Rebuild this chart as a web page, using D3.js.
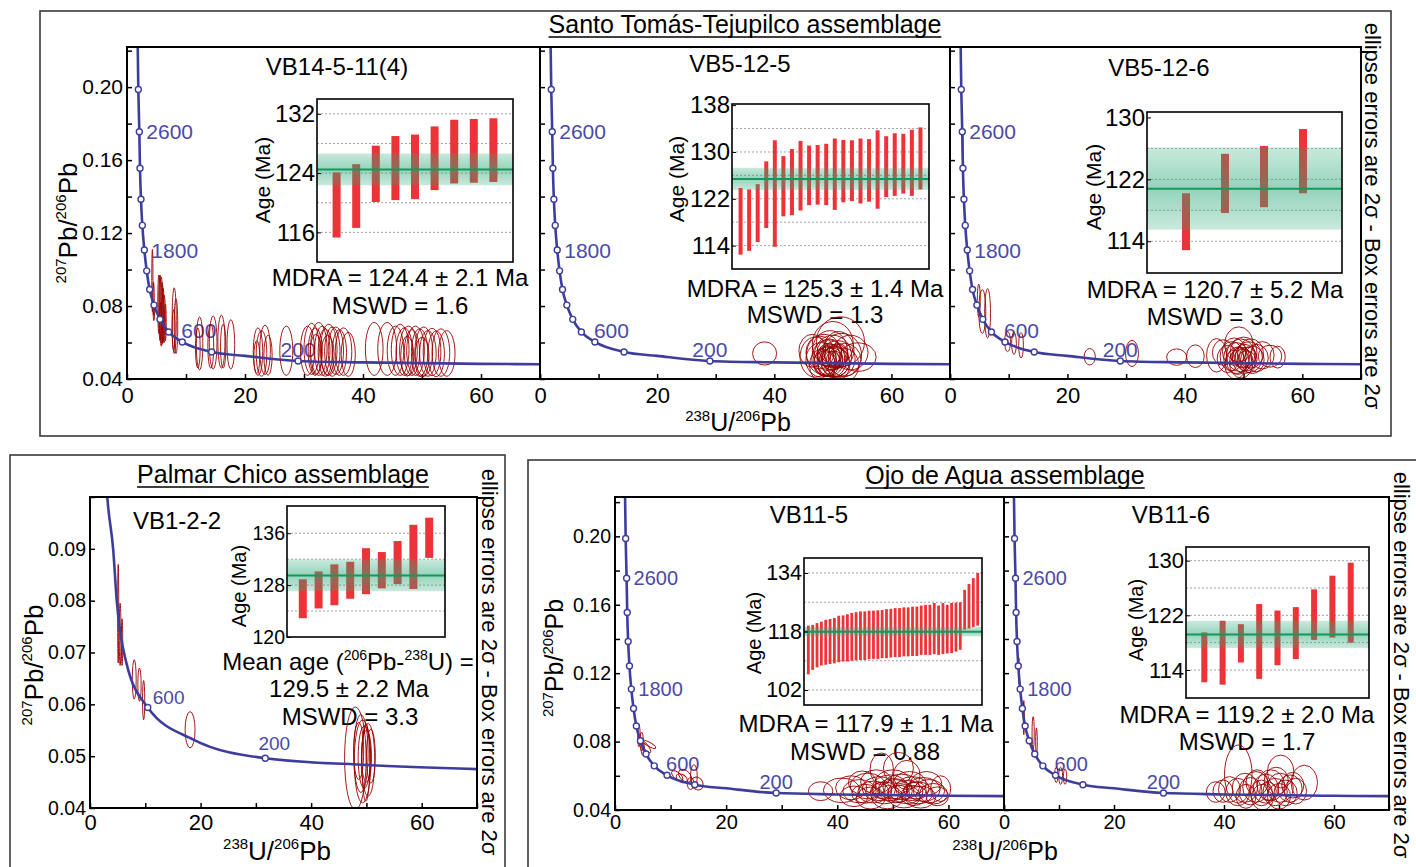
<!DOCTYPE html>
<html><head><meta charset="utf-8">
<script src="https://cdn.jsdelivr.net/npm/d3@7"></script>
<style>
body{margin:0;background:#fff;}
svg{display:block;}
</style></head><body>
<svg id="c" width="1416" height="867"></svg>
<script>
// ---------------- DATA ----------------
// concordia (Tera-Wasserburg) age markers (top & Ojo de Agua panels)
const markerAges = [2800,2600,2400,2200,2000,1800,1600,1400,1200,1000,800,600,400,200];
const markerX = [1.92,2.09,2.20,2.37,2.60,2.94,3.34,3.84,4.58,5.59,7.06,9.37,14.35,29.0];
const markerY = [0.1987,0.1755,0.1555,0.1385,0.1242,0.1107,0.0993,0.0891,0.0805,0.0727,0.0658,0.0603,0.0548,0.0499];
const curveExtraX = [1.80,20,40,60,70];
const curveExtraY = [0.226,0.0527,0.0491,0.0483,0.0481];
const labeledAges = [2600,1800,600,200];
// Palmar Chico concordia
const pcMarkerAges = [600,200];
const pcMarkerX = [10.45,31.7];
const pcMarkerY = [0.0594,0.0496];
const pcCurveX = [3.0,3.13,4.2,4.83,6.6,18.7,50.1,70];
const pcCurveY = [0.102,0.100,0.0898,0.0801,0.0679,0.0532,0.0483,0.0475];

const xTickValues = [0,10,20,30,40,50,60,70];
const xTickLabels = [0,20,40,60];
const topYTicks = [0.04,0.06,0.08,0.10,0.12,0.14,0.16,0.18,0.20,0.22];
const topYLabels = [0.04,0.08,0.12,0.16,0.20];
const pcYTicks = [0.04,0.05,0.06,0.07,0.08,0.09,0.10];
const pcYLabels = [0.04,0.05,0.06,0.07,0.08,0.09];

// ellipses: [238U/206Pb, 207Pb/206Pb, half-width, half-height, rotation(deg)]
const ellVB14_5_11 = [
 [4.3,0.094,0.10,0.017],[4.5,0.084,0.12,0.009],[4.55,0.077,0.12,0.005],
 [5.4,0.081,0.18,0.016],[5.6,0.079,0.22,0.018],[5.8,0.077,0.25,0.019],[5.95,0.076,0.22,0.017],
 [6.1,0.075,0.20,0.015],[6.3,0.073,0.20,0.013],[5.7,0.072,0.15,0.010],[6.5,0.071,0.15,0.010],
 [8.0,0.072,0.35,0.018],[8.3,0.069,0.30,0.015],[7.9,0.067,0.25,0.011],
 [12.3,0.0595,0.55,0.0145],[12.0,0.057,0.40,0.011],[14.6,0.060,0.65,0.0145],[14.2,0.058,0.50,0.012],
 [16.0,0.0605,0.60,0.0145],[16.3,0.058,0.45,0.012],[17.6,0.059,0.65,0.0135],
 [22.2,0.055,0.8,0.013],[22.8,0.054,0.9,0.0125],[23.4,0.056,0.9,0.0135],[22.0,0.052,0.5,0.009],[23.9,0.053,0.7,0.011],
 [27.0,0.0555,1.1,0.0135],
 [30.6,0.0555,1.2,0.0135],[31.3,0.0565,1.3,0.014],[31.9,0.055,1.2,0.013],[32.5,0.0565,1.4,0.0145],
 [33.1,0.0555,1.3,0.0135],[33.6,0.0545,1.2,0.013],[34.2,0.056,1.4,0.014],[34.8,0.055,1.3,0.0135],
 [35.4,0.0555,1.3,0.013],[36.0,0.0545,1.2,0.0125],[36.7,0.055,1.4,0.013],[37.5,0.0535,1.2,0.012],
 [32.0,0.0535,1.0,0.011],[34.0,0.053,1.1,0.011],
 [41.9,0.0565,1.5,0.0145],[44.1,0.0565,1.6,0.0145],
 [45.5,0.0555,1.4,0.0135],[46.3,0.056,1.5,0.014],[47.0,0.055,1.4,0.013],[47.7,0.0555,1.5,0.0135],
 [48.3,0.0545,1.3,0.0125],[48.9,0.0555,1.5,0.0135],[49.6,0.0545,1.4,0.013],[50.3,0.055,1.5,0.0135],
 [51.0,0.054,1.4,0.0125],[51.7,0.0548,1.5,0.013],[52.4,0.0538,1.4,0.0125],[53.2,0.0545,1.5,0.013],
 [54.2,0.054,1.4,0.0125],[47.5,0.0525,1.1,0.011],[50.0,0.052,1.2,0.011]
];
const ellVB5_12_5 = [
 [38.35,0.054,2.05,0.0064],[51.3,0.0604,4.1,0.0137],[47.0,0.052,2.6,0.011],[54.3,0.052,3.1,0.0078],
 [48.5,0.0535,3.0,0.011],[49.2,0.0515,2.8,0.010],[50.0,0.0525,3.2,0.0115],[49.8,0.050,2.5,0.009],
 [50.8,0.051,3.0,0.010],[48.0,0.0505,2.6,0.0095],[51.5,0.053,3.4,0.012],[49.0,0.0495,2.2,0.008],
 [50.4,0.0495,2.4,0.0085],[47.8,0.0545,2.4,0.009],[52.0,0.0505,2.8,0.009],[49.5,0.0555,3.0,0.011],
 [50.2,0.048,2.7,0.0095],[48.7,0.0485,2.0,0.007],[51.0,0.056,2.6,0.010],[49.9,0.051,1.8,0.006],
 [50.6,0.0525,2.0,0.0065],[49.3,0.053,1.9,0.0065],[48.2,0.0475,2.2,0.009],[51.8,0.0475,2.6,0.0095],
 [53.0,0.0545,3.0,0.0095],[46.5,0.0555,2.3,0.009],[50.0,0.059,3.5,0.0125],[49.7,0.050,1.5,0.005],
 [50.3,0.0505,1.4,0.0048],[48.9,0.0525,1.6,0.0055],[50.9,0.0535,1.7,0.006],[49.4,0.0545,2.1,0.0075]
];
const ellVB5_12_6 = [
 [2.15,0.168,0.07,0.008],[4.9,0.083,0.25,0.009],[5.5,0.077,0.6,0.012],[6.4,0.076,0.5,0.0135],
 [9.8,0.0605,0.5,0.0055],[10.9,0.0595,0.4,0.006],[12.1,0.0585,0.4,0.007],
 [23.8,0.0522,0.95,0.0045],[31.0,0.054,1.1,0.0072],[38.6,0.052,1.7,0.0045],[41.8,0.0525,1.5,0.0062],
 [55.8,0.052,1.3,0.006],[49.2,0.059,2.4,0.0096],[45.4,0.053,1.7,0.0092],[54.5,0.0525,2.0,0.006],
 [48.0,0.0525,2.0,0.008],[48.8,0.0515,2.2,0.0085],[49.5,0.053,2.4,0.009],[50.2,0.051,2.1,0.008],
 [50.9,0.052,2.3,0.0085],[49.0,0.050,1.9,0.0075],[51.5,0.0505,2.0,0.0075],[47.3,0.051,1.8,0.0075],
 [50.0,0.0545,2.3,0.0085],[49.6,0.049,2.0,0.0085],[48.4,0.055,2.0,0.0075],[51.2,0.054,2.2,0.008],
 [52.2,0.0515,2.0,0.0075],[49.9,0.0515,1.5,0.005],[50.5,0.050,1.6,0.0055],[48.6,0.048,1.8,0.008],
 [46.5,0.0545,1.8,0.007],[53.2,0.053,2.0,0.0075],[49.3,0.0525,1.3,0.0045],[50.7,0.0525,1.4,0.005]
];
const ellVB1_2_2 = [
 [5.1,0.0775,0.10,0.0095],[5.45,0.0735,0.15,0.006],[5.8,0.072,0.12,0.0045],
 [8.0,0.0648,0.35,0.0038],[8.95,0.0638,0.30,0.0032],[9.7,0.0608,0.20,0.0038],
 [18.1,0.0551,0.9,0.0035],
 [48.0,0.0496,1.95,0.0099],[49.0,0.0505,1.3,0.0075],[49.6,0.0498,1.1,0.006],[50.0,0.050,0.9,0.005],
 [50.3,0.0493,1.2,0.007],[49.3,0.049,1.5,0.008],[48.6,0.051,0.9,0.0055],[50.8,0.050,0.8,0.0052],
 [49.9,0.0488,0.7,0.0075]
];
const ellVB11_5 = [
 [4.3,0.0835,0.22,0.0065,0],[4.8,0.080,0.3,0.0055,0],[5.4,0.0775,0.45,0.005,-40],[6.1,0.0785,0.35,0.0045,-60],
 [5.0,0.076,0.3,0.004,0],[11.2,0.060,0.6,0.004,-50],[12.0,0.0585,0.7,0.0035,-60],[12.6,0.060,0.9,0.0045,-45],
 [14.2,0.060,0.6,0.0065,0],[14.8,0.0555,1.0,0.004,-30],[13.6,0.0555,0.6,0.0035,0],
 [37.0,0.051,2.2,0.0055],[40.8,0.0515,3.3,0.0072],[48.0,0.064,2.1,0.0093],[51.0,0.0645,2.7,0.0092],
 [52.5,0.0605,2.4,0.0085],[58.6,0.0525,1.8,0.0075],
 [42.5,0.053,2.8,0.007],[44.0,0.051,3.0,0.0068],[45.5,0.054,3.2,0.0075],[46.5,0.0505,2.8,0.0064],
 [47.5,0.0525,3.0,0.007],[48.5,0.050,2.6,0.0064],[49.5,0.053,3.2,0.0075],[50.5,0.051,3.0,0.0068],
 [51.5,0.0535,3.3,0.0075],[52.5,0.0505,2.9,0.0068],[53.5,0.0525,3.0,0.007],[54.5,0.050,2.7,0.0064],
 [55.5,0.052,3.0,0.007],[56.5,0.051,2.8,0.0068],[57.3,0.0495,2.5,0.006],[43.0,0.048,2.5,0.006],
 [46.0,0.047,2.6,0.0064],[49.0,0.0475,2.8,0.0068],[52.0,0.048,2.9,0.0068],[55.0,0.0475,2.7,0.0064],
 [50.0,0.056,3.2,0.0075],[53.0,0.0555,3.0,0.007],[47.0,0.0565,2.8,0.007],[44.5,0.056,2.5,0.0068],
 [56.0,0.0555,2.8,0.007],[58.0,0.048,2.0,0.0055],[51.0,0.0495,2.0,0.005],[48.0,0.0515,1.8,0.0048],
 [54.0,0.0515,2.0,0.005],[45.0,0.0495,2.4,0.0055],[50.0,0.0525,2.6,0.006],[53.8,0.0485,2.4,0.0058]
];
const ellVB11_6 = [
 [2.7,0.1215,0.06,0.0075],[3.6,0.094,0.10,0.010],[5.3,0.085,0.20,0.0095],[5.9,0.080,0.15,0.008],
 [9.5,0.0605,0.3,0.0045],[10.3,0.060,0.35,0.005],[11.1,0.0595,0.3,0.0045],
 [38.5,0.0505,1.7,0.006],[39.8,0.051,1.8,0.0065],[42.6,0.061,2.5,0.017],[54.6,0.056,2.4,0.0102],
 [50.3,0.0625,2.4,0.0096],
 [41.0,0.052,2.0,0.0075],[42.5,0.0505,2.2,0.008],[43.8,0.053,2.3,0.0085],[44.8,0.051,2.1,0.008],
 [45.8,0.0535,2.4,0.009],[46.8,0.050,2.0,0.0075],[47.6,0.0525,2.3,0.0085],[48.5,0.0545,2.5,0.009],
 [49.3,0.0505,2.2,0.008],[50.2,0.053,2.4,0.0085],[51.2,0.050,2.1,0.0075],[52.0,0.0525,2.2,0.008],
 [53.0,0.051,2.0,0.0075],[44.0,0.048,1.8,0.007],[47.0,0.0475,2.0,0.0075],[50.0,0.048,2.1,0.0075],
 [48.0,0.051,1.5,0.0055],[46.0,0.056,2.0,0.0075],[49.5,0.057,2.2,0.008],[52.5,0.0545,2.0,0.0075]
];

// inset age bars [low, high] (Ma) and weighted-mean bands [mean, half-width]
const barsVB14_5_11 = [[115.3,124.1],[116.6,125.2],[120.1,127.7],[120.35,129.0],[120.5,129.2],[121.7,130.3],[122.6,131.2],[122.7,131.3],[122.8,131.4]];
const bandVB14_5_11 = [124.5,2.15];
const barsVB5_12_5 = [[112.45,123.85],[113.1,123.6],[114.6,124.5],[117.0,128.4],[113.8,132.0],[119.0,129.3],[119.2,130.5],[120.0,131.9],[120.9,131.1],[121.0,131.2],[120.9,131.4],[120.1,132.3],[121.4,132.05],[121.6,132.0],[121.2,132.3],[121.5,132.2],[120.3,133.7],[122.3,132.7],[122.5,133.2],[122.9,133.1],[122.5,133.8],[123.6,134.2]];
const bandVB5_12_5 = [125.4,1.9];
const barsVB5_12_6 = [[112.85,120.2],[117.65,125.3],[118.4,126.3],[120.2,128.5]];
const bandVB5_12_6 = [120.8,5.3];
const barsVB1_2_2 = [[122.9,128.9],[124.4,130.1],[124.9,131.2],[125.9,131.6],[126.6,133.7],[127.5,133.1],[128.15,134.8],[127.4,137.3],[132.2,138.4]];
const bandVB1_2_2 = [129.5,2.45];
const barsVB11_5_low = [106.3,107.5,108.2,108.7,108.9,109.1,109.3,109.6,109.8,109.8,110.0,110.1,110.2,110.2,110.4,110.5,110.5,110.7,110.7,110.9,111.0,111.0,111.2,111.2,111.3,111.3,111.6,111.6,111.6,111.8,111.6,111.8,112.0,112.1,112.5,113.0,118.5,118.8,119.2,119.6];
const barsVB11_5_high = [119.6,119.8,120.3,120.7,121.2,121.4,121.7,122.3,122.4,122.7,123.1,123.3,123.5,123.5,123.7,123.7,123.8,123.9,124.1,124.2,124.4,124.4,124.6,124.6,124.8,124.8,125.1,125.3,125.3,125.8,125.1,125.8,125.3,125.8,125.9,126.0,129.4,131.0,132.6,134.0];
const bandVB11_5 = [117.95,1.3];
const barsVB11_6 = [[112.2,119.5],[111.85,121.2],[115.1,120.7],[112.7,123.65],[114.7,122.7],[115.6,123.2],[118.4,125.8],[118.75,127.8],[118.0,129.7]];
const bandVB11_6 = [119.2,2.0];

// ---------------- DRAWING ----------------
const FONT = "'Liberation Sans', Arial, Helvetica, sans-serif";
const BLUE = "#3d3d9e", BLUE_T = "#4a4aa8", ELL = "#990000", RED = "#ee3338";
const svg = d3.select("#c").attr("font-family", FONT);
svg.append("rect").attr("width",1416).attr("height",867).attr("fill","#fff");
const defs = svg.append("defs");
const grad = defs.append("linearGradient").attr("id","bandGrad").attr("x1",0).attr("y1",0).attr("x2",0).attr("y2",1);
[[0,0.25],[0.5,0.5],[1,0.25]].forEach(([o,a])=>grad.append("stop").attr("offset",o).attr("stop-color","#2aa878").attr("stop-opacity",a));

function richText(parent, x, y, parts, o){
  const t = parent.append("text").attr("x",x).attr("y",y).attr("font-size",o.fs)
    .attr("text-anchor",o.anchor||"middle").attr("fill",o.fill||"#000");
  if (o.rotate) t.attr("transform",`rotate(${o.rotate},${x},${y})`);
  let raised=false;
  parts.forEach(([s,sup])=>{
    const ts=t.append("tspan").text(s);
    if(sup){ts.attr("font-size",o.sfs); if(!raised){ts.attr("dy",-o.rise); raised=true;}}
    else if(raised){ts.attr("dy",o.rise); raised=false;}
  });
  return t;
}
const incl = (arr,d)=>arr.some(v=>Math.abs(v-d)<1e-9);

// assemblage frames
[[40,11,1351,425],[10,455,495,440],[528,460,910,440]].forEach(([x,y,w,h])=>
  svg.append("rect").attr("x",x).attr("y",y).attr("width",w).attr("height",h).attr("fill","none").attr("stroke","#3a3a3a").attr("stroke-width",1.6));

function title(txt,x,y){
  const t=svg.append("text").attr("x",x).attr("y",y).attr("text-anchor","middle").attr("font-size",25).text(txt);
  const w=t.node().getComputedTextLength();
  svg.append("line").attr("x1",x-w/2).attr("x2",x+w/2).attr("y1",y+4).attr("y2",y+4).attr("stroke","#000").attr("stroke-width",1.6);
}
title("Santo Tomás-Tejupilco assemblage",745,33);
title("Palmar Chico assemblage",283,483);
title("Ojo de Agua assemblage",1005,484);

function sideText(x,y){
  svg.append("text").attr("transform",`translate(${x},${y}) rotate(90)`).attr("text-anchor","middle")
   .attr("font-size",22).text("ellipse errors are 2σ - Box errors are 2σ");
}
sideText(1365,216); sideText(482,662); sideText(1394,665);

const labSpec = {2600:"side",1800:"side",600:"above",200:"center"};

function drawInset(c){
  const g=svg.append("g");
  const y=d3.scaleLinear().domain(c.dom).range([c.y1,c.y0]);
  const x=d3.scalePoint().domain(d3.range(c.bars.length)).range([c.x0,c.x1]).padding(1);
  g.append("rect").attr("x",c.x0).attr("y",c.y0).attr("width",c.x1-c.x0).attr("height",c.y1-c.y0).attr("fill","#fff");
  g.selectAll(".grid").data(c.grid).join("line").attr("x1",c.x0).attr("x2",c.x1)
    .attr("y1",d=>y(d)).attr("y2",d=>y(d)).attr("stroke","#8a8a8a").attr("stroke-width",0.8).attr("stroke-dasharray","2,2");
  g.selectAll(".bar").data(c.bars).join("rect").attr("x",(d,i)=>x(i)-c.barW/2).attr("width",c.barW)
    .attr("y",d=>y(d[1])).attr("height",d=>y(d[0])-y(d[1])).attr("fill",RED);
  g.append("rect").attr("x",c.x0).attr("width",c.x1-c.x0).attr("y",y(c.band[0]+c.band[1]))
    .attr("height",y(c.band[0]-c.band[1])-y(c.band[0]+c.band[1])).attr("fill","url(#bandGrad)");
  g.append("line").attr("x1",c.x0).attr("x2",c.x1).attr("y1",y(c.band[0])).attr("y2",y(c.band[0])).attr("stroke","#16985a").attr("stroke-width",2);
  const ax=g.append("g").attr("transform",`translate(${c.x0},0)`)
    .call(d3.axisLeft(y).tickValues(c.labels).tickSize(-4).tickSizeOuter(0).tickPadding(2).tickFormat(d3.format("d")));
  ax.select(".domain").remove();
  ax.attr("font-family",FONT).selectAll("text").attr("font-size",c.fs).attr("fill","#000");
  ax.selectAll("line").attr("stroke","#000").attr("stroke-width",1);
  g.append("rect").attr("x",c.x0).attr("y",c.y0).attr("width",c.x1-c.x0).attr("height",c.y1-c.y0).attr("fill","none").attr("stroke","#000").attr("stroke-width",1.6);
  g.append("text").attr("transform",`translate(${c.ageX},${c.ageY}) rotate(-90)`).attr("text-anchor","middle").attr("font-size",c.ageFs||21).text("Age (Ma)");
}

function drawPanel(p){
  const g=svg.append("g");
  const x=d3.scaleLinear().domain([0,70]).range([p.x0,p.x1]);
  const y=d3.scaleLinear().domain(p.yDom).range([p.y1,p.y0]);
  const cid="clip_"+p.id;
  defs.append("clipPath").attr("id",cid).append("rect").attr("x",p.x0).attr("y",p.y0).attr("width",p.x1-p.x0).attr("height",p.y1-p.y0);
  const xa=g.append("g").attr("transform",`translate(0,${p.y1})`)
    .call(d3.axisBottom(x).tickValues(xTickValues).tickSize(-5).tickSizeOuter(0).tickPadding(p.xPad)
      .tickFormat(d=>incl(xTickLabels,d)?d3.format("d")(d):""));
  xa.select(".domain").remove();
  xa.attr("font-family",FONT).selectAll("text").attr("font-size",p.xFs).attr("fill","#000");
  xa.selectAll("line").attr("stroke","#000").attr("stroke-width",1.5);
  const ya=g.append("g").attr("transform",`translate(${p.x0},0)`)
    .call(d3.axisLeft(y).tickValues(p.yTicks).tickSize(-5).tickSizeOuter(0).tickPadding(4)
      .tickFormat(d=>(p.yLabels&&incl(p.yLabels,d))?d3.format(".2f")(d):""));
  ya.select(".domain").remove();
  ya.attr("font-family",FONT).selectAll("text").attr("font-size",p.yFs).attr("fill","#000");
  ya.selectAll("line").attr("stroke","#000").attr("stroke-width",1.5);
  g.append("text").attr("x",p.nameX).attr("y",p.nameY).attr("text-anchor","middle").attr("font-size",24).text(p.name);
  drawInset(p.inset);
  p.stats.forEach(s=>{
    if(typeof s[0]==="string") g.append("text").attr("x",s[1]).attr("y",s[2]).attr("text-anchor","middle").attr("font-size",24).text(s[0]);
    else richText(g,s[1],s[2],s[0],{fs:24,sfs:14,rise:10});
  });
  const pts=p.cx.map((d,i)=>[d,p.cy[i]]).sort((a,b)=>a[0]-b[0]);
  const mk=p.mAges.map((a,i)=>({age:a,x:p.mX[i],y:p.mY[i]}));
  mk.filter(m=>incl(labeledAges,m.age)).forEach(m=>{
    const mx=x(m.x), my=y(m.y), t=g.append("text").attr("font-size",p.labFs).attr("fill",BLUE_T).text(m.age);
    const kind=p.pc?(m.age===600?"pc600":"pc200"):labSpec[m.age];
    if(kind==="side") t.attr("x",mx+7).attr("y",my).attr("dy","0.36em");
    else if(kind==="above") t.attr("x",mx-1).attr("y",my-4);
    else if(kind==="center") t.attr("x",mx).attr("y",my-4).attr("text-anchor","middle");
    else if(kind==="pc600") t.attr("x",mx+5).attr("y",my-3);
    else t.attr("x",mx+9).attr("y",my-8).attr("text-anchor","middle");
  });
  const eg=g.append("g").attr("clip-path",`url(#${cid})`);
  eg.selectAll("ellipse").data(p.ell).join("ellipse")
    .attr("cx",d=>x(d[0])).attr("cy",d=>y(d[1]))
    .attr("rx",d=>x(d[0]+d[2])-x(d[0])).attr("ry",d=>y(d[1])-y(d[1]+d[3]))
    .attr("transform",d=>d[4]?`rotate(${d[4]},${x(d[0])},${y(d[1])})`:null)
    .attr("fill","none").attr("stroke",ELL).attr("stroke-width",0.9);
  const cg=g.append("g").attr("clip-path",`url(#${cid})`);
  cg.append("path").datum(pts).attr("d",d3.line().x(d=>x(d[0])).y(d=>y(d[1])).curve(d3.curveMonotoneX))
    .attr("fill","none").attr("stroke",BLUE).attr("stroke-width",2.6);
  cg.selectAll("circle").data(mk).join("circle").attr("cx",d=>x(d.x)).attr("cy",d=>y(d.y)).attr("r",3)
    .attr("fill","#fff").attr("stroke",BLUE).attr("stroke-width",1.4);
  g.append("rect").attr("x",p.x0).attr("y",p.y0).attr("width",p.x1-p.x0).attr("height",p.y1-p.y0)
    .attr("fill","none").attr("stroke","#000").attr("stroke-width",2);
}

const A={cx:markerX.concat(curveExtraX), cy:markerY.concat(curveExtraY), mAges:markerAges, mX:markerX, mY:markerY};
const B={cx:pcMarkerX.concat(pcCurveX), cy:pcMarkerY.concat(pcCurveY), mAges:pcMarkerAges, mX:pcMarkerX, mY:pcMarkerY, pc:true};

const panels=[
 Object.assign({id:"p1",x0:127,x1:540,y0:47,y1:379,yDom:[0.04,0.222],yTicks:topYTicks,yLabels:topYLabels,xFs:22,yFs:21,xPad:8,labFs:21,
  ell:ellVB14_5_11,name:"VB14-5-11(4)",nameX:337,nameY:75,
  inset:{x0:317,x1:513,y0:99,y1:262,dom:[112,134],labels:[116,124,132],grid:[116,120,124,128,132],bars:barsVB14_5_11,band:bandVB14_5_11,barW:8,fs:24,ageX:270,ageY:180},
  stats:[["MDRA = 124.4 ± 2.1 Ma",400,286],["MSWD = 1.6",400,314]]},A),
 Object.assign({id:"p2",x0:540,x1:950,y0:47,y1:379,yDom:[0.04,0.222],yTicks:topYTicks,yLabels:null,xFs:22,yFs:21,xPad:8,labFs:21,
  ell:ellVB5_12_5,name:"VB5-12-5",nameX:740,nameY:72,
  inset:{x0:732,x1:929,y0:104,y1:269,dom:[110,138.2],labels:[114,122,130,138],grid:[114,118,122,126,130,134],bars:barsVB5_12_5,band:bandVB5_12_5,barW:4,fs:24,ageX:684,ageY:179},
  stats:[["MDRA = 125.3 ± 1.4 Ma",815,297],["MSWD = 1.3",815,323]]},A),
 Object.assign({id:"p3",x0:950,x1:1361,y0:47,y1:379,yDom:[0.04,0.222],yTicks:topYTicks,yLabels:null,xFs:22,yFs:21,xPad:8,labFs:21,
  ell:ellVB5_12_6,name:"VB5-12-6",nameX:1159,nameY:76,
  inset:{x0:1147,x1:1342,y0:112,y1:273,dom:[109.9,130.7],labels:[114,122,130],grid:[114,118,122,126],bars:barsVB5_12_6,band:bandVB5_12_6,barW:8,fs:24,ageX:1101,ageY:187},
  stats:[["MDRA = 120.7 ± 5.2 Ma",1215,298],["MSWD = 3.0",1215,325]]},A),
 Object.assign({id:"pc",x0:90,x1:477,y0:497,y1:808,yDom:[0.04,0.10],yTicks:pcYTicks,yLabels:pcYLabels,xFs:22,yFs:19.5,xPad:6.5,labFs:19,
  ell:ellVB1_2_2,name:"VB1-2-2",nameX:177,nameY:529,
  inset:{x0:287,x1:445,y0:506,y1:637,dom:[120,140.2],labels:[120,128,136],grid:[124,128,132,136],bars:barsVB1_2_2,band:bandVB1_2_2,barW:8,fs:19.5,ageX:246,ageY:586,ageFs:20},
  stats:[[[["Mean age (",false],["206",true],["Pb-",false],["238",true],["U) =",false]],348,670],["129.5 ± 2.2 Ma",349,697],["MSWD = 3.3",350,725]]},B),
 Object.assign({id:"o1",x0:615,x1:1004,y0:497,y1:810,yDom:[0.04,0.223],yTicks:topYTicks,yLabels:topYLabels,xFs:20,yFs:19.5,xPad:5,labFs:20,
  ell:ellVB11_5,name:"VB11-5",nameX:809,nameY:523,
  inset:{x0:804,x1:982,y0:558,y1:705,dom:[97.9,138.1],labels:[102,118,134],grid:[102,110,118,126,134],bars:barsVB11_5_low.map((d,i)=>[d,barsVB11_5_high[i]]),band:bandVB11_5,barW:2.8,fs:21.5,ageX:761,ageY:633,ageFs:20},
  stats:[["MDRA = 117.9 ± 1.1 Ma",866,732],["MSWD = 0.88",865,760]]},A),
 Object.assign({id:"o2",x0:1004,x1:1389,y0:497,y1:810,yDom:[0.04,0.223],yTicks:topYTicks,yLabels:null,xFs:20,yFs:19.5,xPad:5,labFs:20,
  ell:ellVB11_6,name:"VB11-6",nameX:1171,nameY:523,
  inset:{x0:1186,x1:1369,y0:547,y1:698,dom:[109.9,132],labels:[114,122,130],grid:[114,118,122,126,130],bars:barsVB11_6,band:bandVB11_6,barW:6,fs:22,ageX:1143,ageY:620,ageFs:20},
  stats:[["MDRA = 119.2 ± 2.0 Ma",1247,723],["MSWD = 1.7",1247,750]]},A)
];
panels.forEach(drawPanel);

// axis titles
const xt=[["238",true],["U/",false],["206",true],["Pb",false]];
const yt=[["207",true],["Pb/",false],["206",true],["Pb",false]];
richText(svg,738,431,xt,{fs:25,sfs:15,rise:10});
richText(svg,277,860,xt,{fs:26,sfs:15,rise:11});
richText(svg,1005,860,xt,{fs:25,sfs:15,rise:10});
richText(svg,77,223,yt,{fs:26,sfs:15,rise:11,rotate:-90});
richText(svg,43,665,yt,{fs:26,sfs:15,rise:11,rotate:-90});
richText(svg,563,658,yt,{fs:25,sfs:15,rise:10,rotate:-90});
</script>
</body></html>
